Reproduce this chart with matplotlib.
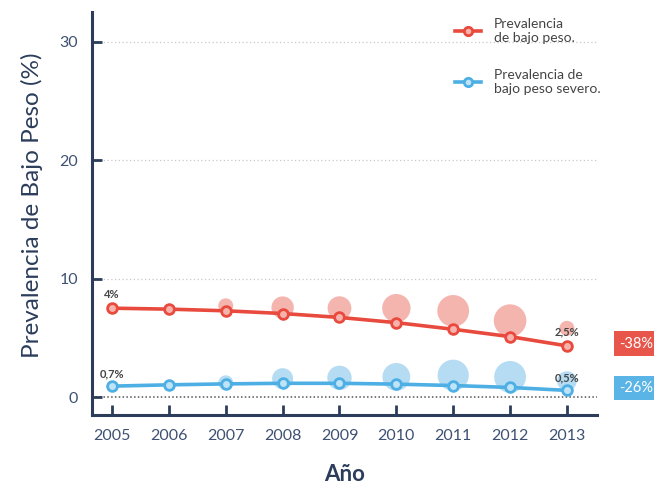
import matplotlib.pyplot as plt
from matplotlib.lines import Line2D

plt.rcParams['font.family'] = ['Lato', 'DejaVu Sans']

years = [2005, 2006, 2007, 2008, 2009, 2010, 2011, 2012, 2013]
bajo_peso = [7.5, 7.42, 7.28, 7.05, 6.72, 6.28, 5.72, 5.1, 4.32]
bajo_peso_severo = [0.92, 1.03, 1.11, 1.16, 1.16, 1.09, 0.97, 0.81, 0.56]

# bubbles (years 2007-2013)
bub_years = [2007, 2008, 2009, 2010, 2011, 2012, 2013]
bub_red_y = [7.7, 7.55, 7.5, 7.5, 7.27, 6.45, 5.8]
bub_red_r = [7.5, 11.2, 11.9, 14.2, 15.9, 16.3, 7.5]
bub_blue_y = [1.2, 1.55, 1.62, 1.7, 1.84, 1.7, 1.35]
bub_blue_r = [7.5, 10.5, 12.2, 13.9, 15.6, 15.9, 9.8]

red = '#e84a3d'
blue = '#4dafe4'
navy = '#2b3d5b'
ticklab = '#3e5172'

fig = plt.figure(figsize=(6.54, 4.86), dpi=100)
ax = fig.add_axes([0.1407, 0.146, 0.772, 0.829])
ax.set_xlim(2004.648, 2013.527)
ax.set_ylim(-1.52, 32.49)

for g in [10, 20, 30]:
    ax.axhline(g, color='#c8c8c8', lw=0.9, ls=(0, (1, 2)), zorder=0)
ax.axhline(0, color='#555555', lw=1.1, ls=(0, (1, 1.5)), zorder=0)

px2pt = 0.72
ax.scatter(bub_years, bub_red_y, s=[(2 * r * px2pt) ** 2 for r in bub_red_r],
           color='#f29d94', alpha=0.75, lw=0, zorder=1)
ax.scatter(bub_years, bub_blue_y, s=[(2 * r * px2pt) ** 2 for r in bub_blue_r],
           color='#a3d4f0', alpha=0.8, lw=0, zorder=1)

ax.plot(years, bajo_peso, color=red, lw=2.6, marker='o', ms=7,
        mfc='#f7b2ab', mec=red, mew=2, zorder=3)
ax.plot(years, bajo_peso_severo, color=blue, lw=2.6, marker='o', ms=7,
        mfc='#bfe3f7', mec=blue, mew=2, zorder=3)

lab = dict(fontsize=8, color='#444444', fontweight='bold', ha='center')
ax.text(2005, 8.4, '4%', **lab)
ax.text(2005, 1.7, '0,7%', **lab)
ax.text(2013, 5.2, '2,5%', **lab)
ax.text(2013, 1.35, '0,5%', **lab)

for s in ['top', 'right']:
    ax.spines[s].set_visible(False)
for s in ['left', 'bottom']:
    ax.spines[s].set_color(navy)
    ax.spines[s].set_linewidth(2.2)

ax.set_xticks(years)
ax.set_yticks([0, 10, 20, 30])
ax.tick_params(axis='both', direction='in', length=7, width=2, color=navy,
               labelcolor=ticklab, labelsize=11.5)
ax.tick_params(axis='y', pad=10)
ax.tick_params(axis='x', pad=10)

ax.set_ylabel('Prevalencia de Bajo Peso (%)', fontsize=17.5, color=navy, labelpad=12)
ax.yaxis.label.set_y(0.52)
ax.set_xlabel('Año', fontsize=16, color=navy, fontweight='bold', labelpad=15)

handles = [Line2D([], [], color=red, lw=2.6, marker='o', ms=6, mfc='#f7b2ab', mec=red, mew=2),
           Line2D([], [], color=blue, lw=2.6, marker='o', ms=6, mfc='#bfe3f7', mec=blue, mew=2)]
ax.legend(handles, ['Prevalencia\nde bajo peso.', 'Prevalencia de\nbajo peso severo.'],
          loc='upper left', bbox_to_anchor=(0.708, 1.0), frameon=False,
          fontsize=10, labelcolor='#444444', handlelength=1.9, handletextpad=0.9,
          labelspacing=1.8, borderaxespad=0)

fig.text(0.946, 0.293, '-38%', fontsize=10.5, color='white', va='center', ha='left',
         bbox=dict(boxstyle='square,pad=0.35', fc='#e8564b', ec='none'))
fig.text(0.946, 0.201, '-26%', fontsize=10.5, color='white', va='center', ha='left',
         bbox=dict(boxstyle='square,pad=0.35', fc='#5ab4e6', ec='none'))

fig.savefig('out.png', dpi=100)
